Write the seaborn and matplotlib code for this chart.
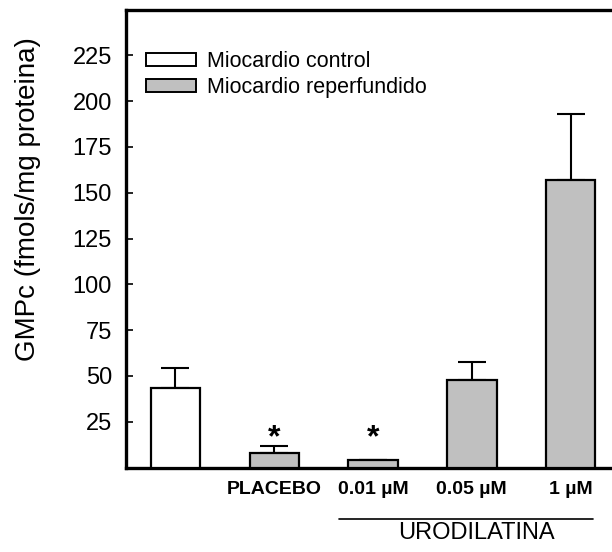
import matplotlib
matplotlib.use("Agg")
import matplotlib.pyplot as plt
import seaborn as sns
import pandas as pd
from matplotlib.patches import Patch
from matplotlib.lines import Line2D

# GMPc levels per group (mean and upper SEM)
categories = ["Control", "PLACEBO", "0.01 µM", "0.05 µM", "1 µM"]
tick_labels = ["", "PLACEBO", "0.01 µM", "0.05 µM", "1 µM"]
groups = ["Miocardio control", "Miocardio reperfundido", "Miocardio reperfundido",
          "Miocardio reperfundido", "Miocardio reperfundido"]
means = [43.3, 8.0, 3.9, 47.6, 157.0]
errors = [10.9, 3.5, 0.4, 9.9, 36.2]
significant = [False, True, True, False, False]

df = pd.DataFrame({"cat": categories, "val": means, "grp": groups})

sns.set_theme(style="white")
plt.rcParams["font.family"] = ["Liberation Sans", "DejaVu Sans"]
plt.rcParams["text.color"] = "black"
plt.rcParams["axes.labelcolor"] = "black"
plt.rcParams["xtick.color"] = "black"
plt.rcParams["ytick.color"] = "black"

W, H = 612, 552
fig = plt.figure(figsize=(W / 100, H / 100), dpi=100)
ax_left, ax_bottom = 126 / W, 84.5 / H
ax = fig.add_axes([ax_left, ax_bottom, 494 / W, 458 / H])

palette = {"Miocardio control": "white", "Miocardio reperfundido": "#c0c0c0"}
sns.barplot(data=df, x="cat", y="val", hue="grp", order=categories,
            palette=palette, dodge=False, width=0.5, edgecolor="black",
            linewidth=1.6, legend=False, ax=ax, zorder=3)

xs = list(range(len(categories)))
ax.errorbar(xs, means, yerr=[[0] * len(means), errors], fmt="none",
            ecolor="black", elinewidth=1.5, capsize=10, capthick=1.5, zorder=2)

for x, m, e, s in zip(xs, means, errors, significant):
    if s:
        ax.text(x, 8.0, "*", ha="center", va="bottom", fontsize=23,
                fontweight="bold", color="black")

ax.set_xlim(-0.5, 4.5)
ax.set_ylim(0, 250)
ax.set_yticks([25, 50, 75, 100, 125, 150, 175, 200, 225])
ax.tick_params(axis="y", direction="in", length=5, width=1.2, labelsize=17,
               pad=10, left=True, colors="black")
ax.set_xticks(xs)
ax.set_xticklabels(tick_labels, fontsize=14, fontweight="bold")
ax.tick_params(axis="x", length=0, pad=10, colors="black")
ax.set_xlabel("")
ax.set_ylabel("")

for side in ["left", "top", "bottom"]:
    ax.spines[side].set_visible(True)
    ax.spines[side].set_linewidth(2.4)
    ax.spines[side].set_color("black")
ax.spines["right"].set_visible(False)

fig.text(28 / W, 1 - 199 / H, "GMPc (fmols/mg proteina)", rotation=90,
         ha="center", va="center", fontsize=20, color="black")

# Bracket and label for the urodilatin doses
fig.add_artist(Line2D([339 / W, 593 / W], [1 - 519 / H, 1 - 519 / H],
                      color="black", linewidth=1.2))
fig.text(476 / W, 1 - 533 / H, "URODILATINA", ha="center", va="center",
         fontsize=17, color="black")

handles = [Patch(facecolor="white", edgecolor="black", linewidth=1.4),
           Patch(facecolor="#c0c0c0", edgecolor="black", linewidth=1.4)]
leg = fig.legend(handles, ["Miocardio control", "Miocardio reperfundido"],
                 loc="upper left", bbox_to_anchor=(145.5 / W, 1 - 51 / H),
                 frameon=False, fontsize=15.5, handlelength=2.35,
                 handleheight=0.55, handletextpad=0.5, labelspacing=0.22,
                 borderpad=0, borderaxespad=0)
for t in leg.get_texts():
    t.set_color("black")

fig.savefig("out.png", dpi=100)
